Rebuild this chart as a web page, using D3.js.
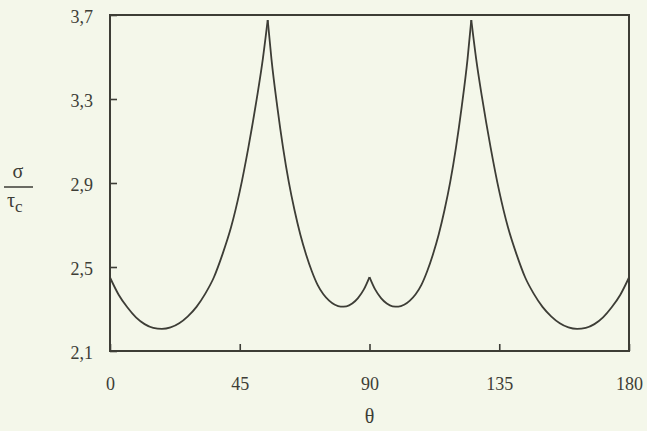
<!DOCTYPE html>
<html>
<head>
<meta charset="utf-8">
<script src="https://cdn.jsdelivr.net/npm/d3@7"></script>
<style>
  body { margin: 0; background: #f4f7ea; }
  svg { display: block; }
</style>
</head>
<body>
<div id="chart"></div>
<script>
// angle of the tensile axis (degrees)
const thetaDeg = [0, 3, 6, 9, 12, 15, 18, 21, 24, 27, 30, 33, 36, 39, 42, 45, 48, 51, 53, 54.7,
  56, 58, 60, 62, 64, 66, 68, 70, 72, 74, 76, 78, 80, 82, 84, 86, 88, 90,
  92, 94, 96, 98, 100, 102, 104, 106, 108, 110, 112, 114, 116, 118, 120, 122, 124, 125.3,
  127, 129, 132, 135, 138, 141, 144, 147, 150, 153, 156, 159, 162, 165, 168, 171, 174, 177, 180];
// sigma / tau_c
const sigmaRatio = [2.45, 2.368, 2.308, 2.26, 2.228, 2.21, 2.205, 2.212, 2.232, 2.265, 2.31, 2.372, 2.45, 2.56, 2.69, 2.86, 3.07, 3.31, 3.49, 3.676,
  3.49, 3.265, 3.07, 2.905, 2.77, 2.655, 2.56, 2.48, 2.415, 2.37, 2.34, 2.32, 2.311, 2.313, 2.326, 2.352, 2.392, 2.452,
  2.392, 2.352, 2.326, 2.313, 2.311, 2.32, 2.34, 2.37, 2.415, 2.48, 2.56, 2.655, 2.77, 2.905, 3.07, 3.265, 3.49, 3.676,
  3.49, 3.31, 3.07, 2.86, 2.69, 2.56, 2.45, 2.372, 2.31, 2.265, 2.232, 2.212, 2.205, 2.21, 2.228, 2.26, 2.308, 2.368, 2.45];
// cusps where the curve is not smooth
const cuspAngles = [54.7, 90, 125.3];

const xTicks = [0, 45, 90, 135, 180];
const yTicks = [2.1, 2.5, 2.9, 3.3, 3.7];

const W = 647, H = 431;
const margin = { top: 15, right: 18, bottom: 80, left: 110 },
  width = W - margin.left - margin.right,
  height = H - margin.top - margin.bottom;

const ink = "#3d3d36";
const font = "Liberation Serif, Times New Roman, serif";

const svg = d3.select("#chart")
  .append("svg")
  .attr("width", W)
  .attr("height", H);

svg.append("rect")
  .attr("width", W)
  .attr("height", H)
  .attr("fill", "#f4f7ea");

const g = svg.append("g")
  .attr("transform", "translate(" + margin.left + "," + margin.top + ")");

const x = d3.scaleLinear().domain([0, 180]).range([0, width]);
const y = d3.scaleLinear().domain([2.1, 3.7]).range([height, 0]);

const comma = d3.formatLocale({ decimal: ",", thousands: " ", grouping: [3], currency: ["", ""] });

// X axis, ticks pointing inwards
const xAxis = g.append("g")
  .attr("transform", "translate(0," + height + ")")
  .call(d3.axisBottom(x)
    .tickValues(xTicks)
    .tickSizeInner(-7)
    .tickSizeOuter(0)
    .tickPadding(26)
    .tickFormat(d3.format("d")));

// Y axis
const yAxis = g.append("g")
  .call(d3.axisLeft(y)
    .tickValues(yTicks)
    .tickSizeInner(-7)
    .tickSizeOuter(0)
    .tickPadding(17)
    .tickFormat(comma.format(".1f")));

[xAxis, yAxis].forEach(a => {
  a.select(".domain").remove();
  a.selectAll("line").attr("stroke", ink).attr("stroke-width", 1.6);
  a.selectAll("text")
    .attr("fill", ink)
    .attr("font-family", font)
    .attr("font-size", "18px");
});
yAxis.selectAll("text").attr("dy", "0.4em");

// frame
g.append("rect")
  .attr("width", width)
  .attr("height", height)
  .attr("fill", "none")
  .attr("stroke", ink)
  .attr("stroke-width", 2);

// curve, drawn piece by piece so the cusps stay sharp
const points = thetaDeg.map((t, i) => ({ t: t, s: sigmaRatio[i] }));
const bounds = [0].concat(cuspAngles, [180]);
const line = d3.line()
  .x(d => x(d.t))
  .y(d => y(d.s))
  .curve(d3.curveMonotoneX);

for (let i = 0; i < bounds.length - 1; i++) {
  const seg = points.filter(d => d.t >= bounds[i] && d.t <= bounds[i + 1]);
  g.append("path")
    .datum(seg)
    .attr("d", line)
    .attr("fill", "none")
    .attr("stroke", ink)
    .attr("stroke-width", 1.8)
    .attr("stroke-linejoin", "miter");
}

// axis titles
svg.append("text")
  .attr("x", margin.left + x(90))
  .attr("y", 423)
  .attr("text-anchor", "middle")
  .attr("font-family", font)
  .attr("font-size", "20px")
  .attr("fill", ink)
  .text("θ");

svg.append("text")
  .attr("x", 18)
  .attr("y", 178)
  .attr("text-anchor", "middle")
  .attr("font-family", font)
  .attr("font-size", "20px")
  .attr("fill", ink)
  .text("σ");

svg.append("line")
  .attr("x1", 4)
  .attr("x2", 33)
  .attr("y1", 187)
  .attr("y2", 187)
  .attr("stroke", ink)
  .attr("stroke-width", 1.5);

const tau = svg.append("text")
  .attr("x", 7)
  .attr("y", 207)
  .attr("font-family", font)
  .attr("font-size", "20px")
  .attr("fill", ink);
tau.append("tspan").text("τ");
tau.append("tspan")
  .attr("dy", 5)
  .attr("font-size", "17px")
  .text("c");
</script>
</body>
</html>
